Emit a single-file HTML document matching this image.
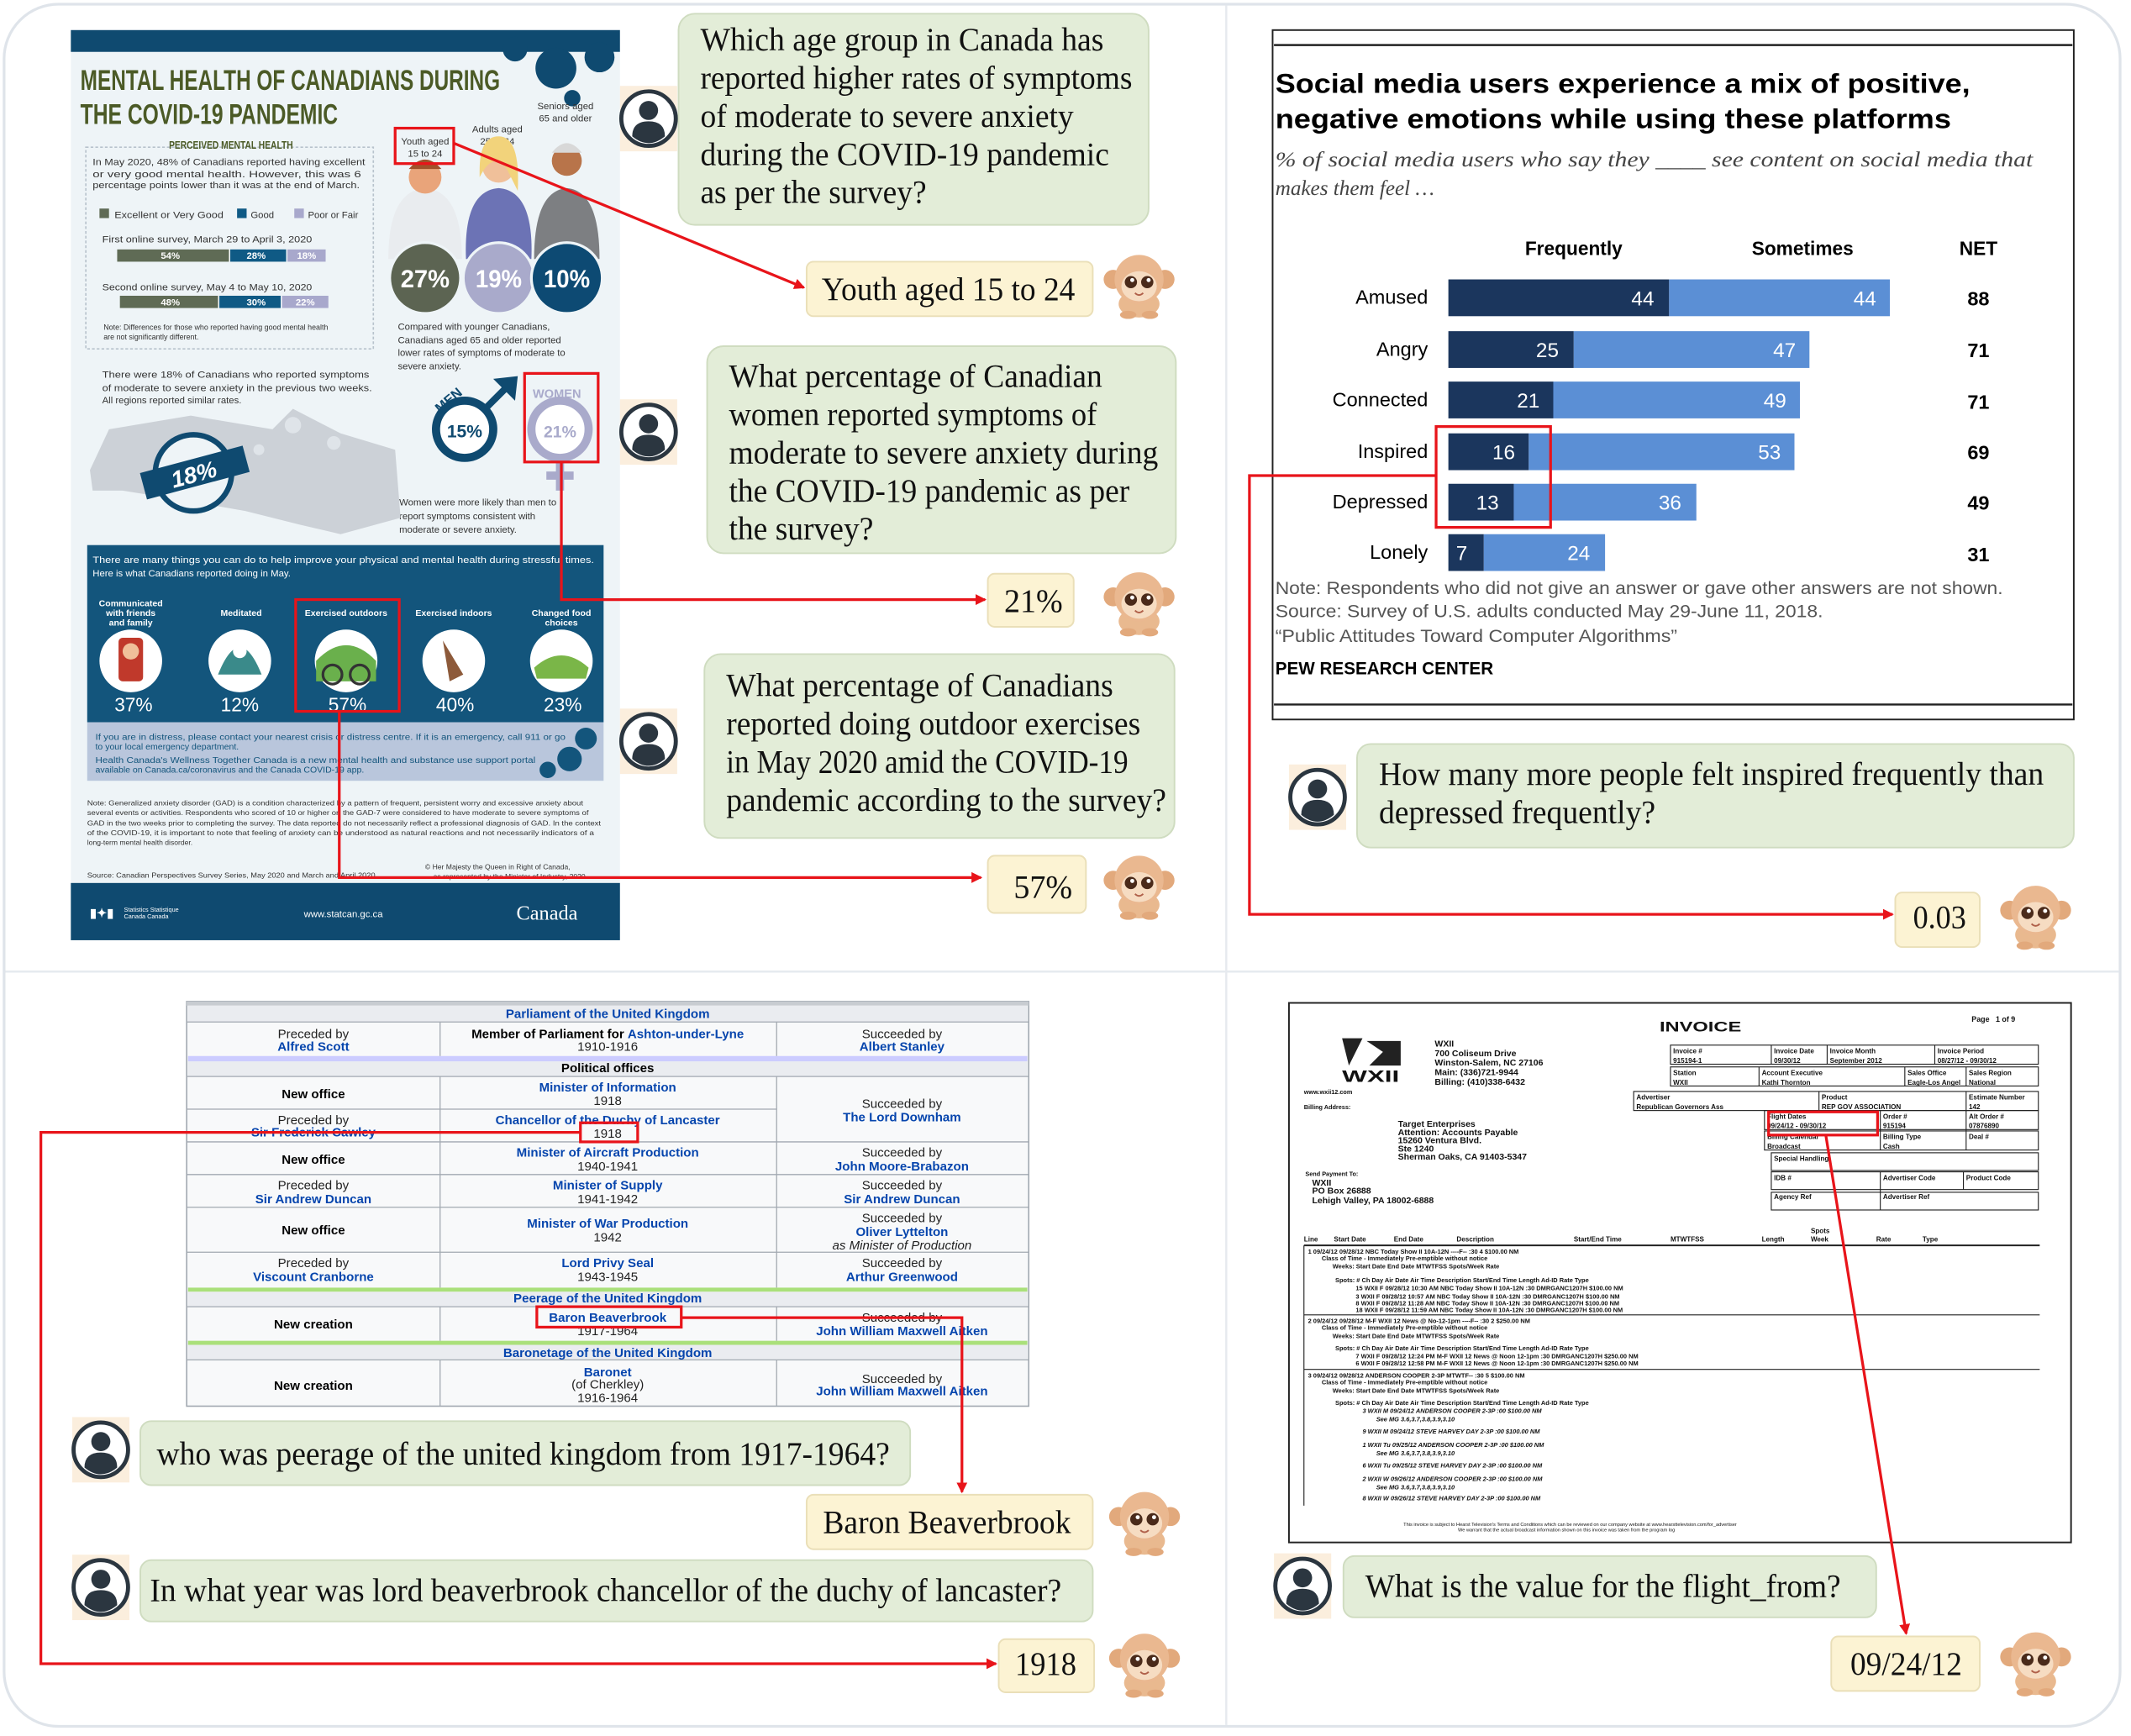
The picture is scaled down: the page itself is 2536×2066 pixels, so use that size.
<!DOCTYPE html>
<html><head><meta charset="utf-8"><style>
html,body{margin:0;padding:0;background:#fff}
svg{display:block}
.sf{font-family:"Liberation Serif",serif}
.ss{font-family:"Liberation Sans",sans-serif}
.pre{white-space:pre}
</style></head><body>
<svg width="2536" height="2066" viewBox="0 0 1564 1274" xmlns="http://www.w3.org/2000/svg">
<defs>
<g id="av">
<rect x="-21" y="-24" width="42" height="48" fill="#fbeedd"/>
<circle cx="0" cy="0" r="20" fill="#fff" stroke="#2b3640" stroke-width="3"/>
<circle cx="0" cy="-6" r="7" fill="#2b3640"/>
<path d="M-12,13 Q-12,2 0,2 Q12,2 12,13 Q6,18 0,18 Q-6,18 -12,13Z" fill="#2b3640"/>
</g>
<g id="mk">
<ellipse cx="0" cy="16" rx="15" ry="10" fill="#e9b98f"/>
<circle cx="-19" cy="-2" r="7" fill="#e2a97c"/><circle cx="19" cy="-2" r="7" fill="#e2a97c"/>
<circle cx="0" cy="-2" r="18" fill="#eab890"/>
<ellipse cx="0" cy="3" rx="13" ry="11" fill="#f6dcc2"/>
<circle cx="-6" cy="0" r="4.5" fill="#4a2a1a"/><circle cx="6" cy="0" r="4.5" fill="#4a2a1a"/>
<circle cx="-5" cy="-1.5" r="1.5" fill="#fff"/><circle cx="7" cy="-1.5" r="1.5" fill="#fff"/>
<path d="M-3,8 Q0,11 3,8" stroke="#b0604a" fill="none" stroke-width="1.2"/>
<ellipse cx="-8" cy="24" rx="6" ry="3" fill="#e2a97c"/><ellipse cx="8" cy="24" rx="6" ry="3" fill="#e2a97c"/>
</g>
<marker id="ar" markerWidth="8" markerHeight="8" refX="7" refY="4" orient="auto" markerUnits="userSpaceOnUse"><path d="M0,0 L8,4 L0,8Z" fill="#e8141a"/></marker>
</defs>

<rect x="3" y="3" width="1553" height="1264" rx="40" fill="#fff" stroke="#dfe4ea" stroke-width="2"/>
<line x1="900" y1="4" x2="900" y2="1266" stroke="#e6eaef" stroke-width="1.5"/>
<line x1="4" y1="713" x2="1555" y2="713" stroke="#e6eaef" stroke-width="1.5"/>

<!-- ============ INFOGRAPHIC ============ -->
<g class="ss">
<rect x="52" y="22" width="403" height="668" fill="#eef4f7"/>
<rect x="52" y="22" width="403" height="16" fill="#0f4a70"/>
<g fill="#0f4a70">
<circle cx="408" cy="50" r="15"/><circle cx="440" cy="42" r="11"/><circle cx="378" cy="36" r="9"/><circle cx="420" cy="72" r="6"/>
</g>
<text x="59" y="66" font-size="21" font-weight="bold" fill="#4b5a26" textLength="308" lengthAdjust="spacingAndGlyphs">MENTAL HEALTH OF CANADIANS DURING</text>
<text x="59" y="91" font-size="21" font-weight="bold" fill="#4b5a26" textLength="189" lengthAdjust="spacingAndGlyphs">THE COVID-19 PANDEMIC</text>
<rect x="63" y="108" width="211" height="148" fill="none" stroke="#b7c2cc" stroke-dasharray="2,1.5"/>
<text x="124" y="109" font-size="8" font-weight="bold" fill="#4b5a26" textLength="91" lengthAdjust="spacingAndGlyphs">PERCEIVED MENTAL HEALTH</text>
<g font-size="7" fill="#333">
<text x="68" y="121" textLength="200" lengthAdjust="spacingAndGlyphs">In May 2020, 48% of Canadians reported having excellent</text>
<text x="68" y="130" textLength="197" lengthAdjust="spacingAndGlyphs">or very good mental health. However, this was 6</text>
<text x="68" y="138" textLength="196" lengthAdjust="spacingAndGlyphs">percentage points lower than it was at the end of March.</text>
<rect x="73" y="153" width="7" height="7" fill="#5f6b55"/><text x="84" y="160" textLength="80" lengthAdjust="spacingAndGlyphs">Excellent or Very Good</text>
<rect x="174" y="153" width="7" height="7" fill="#0f5a85"/><text x="184" y="160">Good</text>
<rect x="216" y="153" width="7" height="7" fill="#a8a8cc"/><text x="226" y="160">Poor or Fair</text>
<text x="75" y="178" textLength="154" lengthAdjust="spacingAndGlyphs">First online survey, March 29 to April 3, 2020</text>
<text x="75" y="213" textLength="154" lengthAdjust="spacingAndGlyphs">Second online survey, May 4 to May 10, 2020</text>
</g>
<rect x="86" y="183" width="82" height="9" fill="#5f6b55"/><rect x="169" y="183" width="41" height="9" fill="#0f5a85"/><rect x="211" y="183" width="28" height="9" fill="#a8a8cc"/>
<rect x="88" y="217" width="72" height="9" fill="#5f6b55"/><rect x="161" y="217" width="45" height="9" fill="#0f5a85"/><rect x="207" y="217" width="34" height="9" fill="#a8a8cc"/>
<g font-size="7" font-weight="bold" fill="#fff"><text x="118" y="190">54%</text><text x="181" y="190">28%</text><text x="218" y="190">18%</text><text x="118" y="224">48%</text><text x="181" y="224">30%</text><text x="217" y="224">22%</text></g>
<text x="76" y="242" font-size="5.5" fill="#333">Note: Differences for those who reported having good mental health</text>
<text x="76" y="249" font-size="5.5" fill="#333">are not significantly different.</text>
<g font-size="7" fill="#333" text-anchor="middle">
<text x="415" y="80">Seniors aged</text><text x="415" y="89">65 and older</text>
<text x="365" y="97">Adults aged</text><text x="365" y="106">25 to 64</text>
<text x="312" y="106">Youth aged</text><text x="312" y="115">15 to 24</text>
</g>
<path d="M285,190 Q285,140 312,138 Q339,140 339,190Z" fill="#e9ecef"/>
<circle cx="312" cy="130" r="12" fill="#e9a47a"/><path d="M300,124 Q312,110 324,124Z" fill="#a0512a"/>
<path d="M342,190 Q340,140 366,138 Q392,140 390,190Z" fill="#6c73b5"/>
<circle cx="366" cy="122" r="12" fill="#f0c09a"/><path d="M352,125 Q352,100 366,100 Q382,100 380,140 L372,124 Q362,110 352,130Z" fill="#f2d37b"/>
<path d="M392,190 Q392,140 416,138 Q440,140 440,190Z" fill="#7d7f82"/>
<circle cx="416" cy="118" r="11" fill="#b8744a"/><path d="M405,112 Q416,98 427,112Z" fill="#d8d8d8"/>
<circle cx="312" cy="204" r="26" fill="#5c6452" stroke="#eef4f7" stroke-width="2"/>
<circle cx="366" cy="204" r="26" fill="#a9aacb" stroke="#eef4f7" stroke-width="2"/>
<circle cx="416" cy="204" r="26" fill="#0d4a73" stroke="#eef4f7" stroke-width="2"/>
<g font-size="18" font-weight="bold" fill="#fff" text-anchor="middle"><text x="312" y="211" textLength="36" lengthAdjust="spacingAndGlyphs">27%</text><text x="366" y="211" textLength="34" lengthAdjust="spacingAndGlyphs">19%</text><text x="416" y="211" textLength="34" lengthAdjust="spacingAndGlyphs">10%</text></g>
<g font-size="7" fill="#333">
<text x="292" y="242">Compared with younger Canadians,</text>
<text x="292" y="252">Canadians aged 65 and older reported</text>
<text x="292" y="261">lower rates of symptoms of moderate to</text>
<text x="292" y="271">severe anxiety.</text>
<text x="75" y="277" textLength="196" lengthAdjust="spacingAndGlyphs">There were 18% of Canadians who reported symptoms</text>
<text x="75" y="287" textLength="198" lengthAdjust="spacingAndGlyphs">of moderate to severe anxiety in the previous two weeks.</text>
<text x="75" y="296">All regions reported similar rates.</text>
<text x="293" y="371">Women were more likely than men to</text>
<text x="293" y="381">report symptoms consistent with</text>
<text x="293" y="391">moderate or severe anxiety.</text>
</g>
<path d="M66,345 L80,315 L140,305 L200,315 L215,300 L250,318 L290,330 L294,380 L250,392 L220,385 L180,375 L140,368 L90,360 L68,360Z" fill="#ccd1d7"/>
<g fill="#dfe4e9"><circle cx="215" cy="312" r="6"/><circle cx="245" cy="325" r="5"/><circle cx="190" cy="330" r="4"/></g>
<circle cx="142" cy="347" r="28" fill="#eef4f7" stroke="#0f4a70" stroke-width="4"/>
<rect x="104" y="337" width="78" height="20" fill="#0f4a70" transform="rotate(-15 142 347)"/>
<text x="142" y="354" font-size="17" font-weight="bold" font-style="italic" fill="#fff" text-anchor="middle" transform="rotate(-15 142 347)">18%</text>
<circle cx="341" cy="315" r="21" fill="#fff" stroke="#0f4a70" stroke-width="6"/>
<path d="M356,300 L372,284" stroke="#0f4a70" stroke-width="5"/><path d="M362,278 L380,276 L378,294Z" fill="#0f4a70"/>
<text x="341" y="321" font-size="13" font-weight="bold" fill="#0f4a70" text-anchor="middle">15%</text>
<text x="318" y="300" font-size="10" font-weight="bold" fill="#0f4a70" transform="rotate(-40 325 295)">MEN</text>
<circle cx="411" cy="315" r="21" fill="#fff" stroke="#a9aacb" stroke-width="6"/>
<rect x="408" y="338" width="6" height="22" fill="#a9aacb"/><rect x="401" y="346" width="20" height="6" fill="#a9aacb"/>
<text x="411" y="321" font-size="12" font-weight="bold" fill="#a9aacb" text-anchor="middle">21%</text>
<text x="391" y="292" font-size="9" font-weight="bold" fill="#a9aacb">WOMEN</text>
<rect x="64" y="400" width="379" height="130" fill="#13557c"/>
<rect x="64" y="530" width="379" height="43" fill="#b9c6dc"/>
<g font-size="7" fill="#fff">
<text x="68" y="413" textLength="368" lengthAdjust="spacingAndGlyphs">There are many things you can do to help improve your physical and mental health during stressful times.</text>
<text x="68" y="423">Here is what Canadians reported doing in May.</text>
</g>
<g font-size="6.5" font-weight="bold" fill="#fff" text-anchor="middle">
<text x="96" y="445">Communicated</text><text x="96" y="452">with friends</text><text x="96" y="459">and family</text>
<text x="177" y="452">Meditated</text><text x="254" y="452">Exercised outdoors</text><text x="333" y="452">Exercised indoors</text>
<text x="412" y="452">Changed food</text><text x="412" y="459">choices</text>
</g>
<g fill="#fff"><circle cx="96" cy="485" r="23"/><circle cx="176" cy="485" r="23"/><circle cx="254" cy="485" r="23"/><circle cx="333" cy="485" r="23"/><circle cx="412" cy="485" r="23"/></g>
<rect x="87" y="468" width="18" height="32" rx="3" fill="#c0392b"/><circle cx="96" cy="478" r="6" fill="#f0c09a"/>
<path d="M160,495 Q176,455 192,495Z" fill="#3a8a8a"/><circle cx="176" cy="478" r="5" fill="#fff"/>
<path d="M232,485 Q254,462 276,485 L276,500 L232,500Z" fill="#6ab04c"/><circle cx="244" cy="495" r="7" fill="none" stroke="#333" stroke-width="2"/><circle cx="264" cy="495" r="7" fill="none" stroke="#333" stroke-width="2"/>
<path d="M325,470 L340,495 L330,500Z" fill="#8d5a3a"/>
<path d="M392,490 Q412,472 432,490 L430,498 L394,498Z" fill="#7ab648"/>
<g font-size="14" fill="#fff" text-anchor="middle"><text x="98" y="522">37%</text><text x="176" y="522">12%</text><text x="255" y="522">57%</text><text x="334" y="522">40%</text><text x="413" y="522">23%</text></g>
<g font-size="6.5" fill="#13557c">
<text x="70" y="543" textLength="345" lengthAdjust="spacingAndGlyphs">If you are in distress, please contact your nearest crisis or distress centre. If it is an emergency, call 911 or go</text>
<text x="70" y="550">to your local emergency department.</text>
<text x="70" y="560" textLength="323" lengthAdjust="spacingAndGlyphs">Health Canada's Wellness Together Canada is a new mental health and substance use support portal</text>
<text x="70" y="567">available on Canada.ca/coronavirus and the Canada COVID-19 app.</text>
</g>
<circle cx="430" cy="542" r="8" fill="#13557c"/><circle cx="418" cy="557" r="9" fill="#13557c"/><circle cx="402" cy="565" r="6" fill="#13557c"/>
<g font-size="5.3" fill="#333">
<text x="64" y="591" textLength="364" lengthAdjust="spacingAndGlyphs">Note: Generalized anxiety disorder (GAD) is a condition characterized by a pattern of frequent, persistent worry and excessive anxiety about</text>
<text x="64" y="598" textLength="368" lengthAdjust="spacingAndGlyphs">several events or activities. Respondents who scored of 10 or higher on the GAD-7 were considered to have moderate to severe symptoms of</text>
<text x="64" y="606" textLength="377" lengthAdjust="spacingAndGlyphs">GAD in the two weeks prior to completing the survey. The data reported do not necessarily reflect a professional diagnosis of GAD. In the context</text>
<text x="64" y="613" textLength="372" lengthAdjust="spacingAndGlyphs">of the COVID-19, it is important to note that feeling of anxiety can be understood as natural reactions and not necessarily indicators of a</text>
<text x="64" y="620">long-term mental health disorder.</text>
<text x="64" y="644" textLength="213" lengthAdjust="spacingAndGlyphs">Source: Canadian Perspectives Survey Series, May 2020 and March and April 2020.</text>
<text x="312" y="638">© Her Majesty the Queen in Right of Canada,</text>
<text x="318" y="645">as represented by the Minister of Industry, 2020</text>
</g>
<rect x="52" y="648" width="403" height="42" fill="#0f4a70"/>
<text x="66" y="673" font-size="9" font-weight="bold" fill="#fff">▮✦▮</text>
<text x="91" y="669" font-size="4.5" fill="#fff">Statistics  Statistique</text><text x="91" y="674" font-size="4.5" fill="#fff">Canada      Canada</text>
<text x="223" y="673" font-size="7" fill="#fff">www.statcan.gc.ca</text>
<text x="379" y="675" font-size="15" fill="#fff" font-family="Liberation Serif,serif">Canada</text>
</g>

<!-- ============ PEW CHART ============ -->
<g class="ss">
<rect x="934" y="22" width="588" height="506" fill="#fff" stroke="#222" stroke-width="1.2"/>
<line x1="935" y1="33" x2="1521" y2="33" stroke="#222" stroke-width="1.5"/>
<line x1="935" y1="517" x2="1521" y2="517" stroke="#222" stroke-width="1.5"/>
<text x="936" y="68" font-size="20" font-weight="bold" fill="#000" textLength="510" lengthAdjust="spacingAndGlyphs">Social media users experience a mix of positive,</text>
<text x="936" y="94" font-size="20" font-weight="bold" fill="#000" textLength="496" lengthAdjust="spacingAndGlyphs">negative emotions while using these platforms</text>
<text x="936" y="122" font-size="15.5" font-style="italic" fill="#444" font-family="Liberation Serif,serif" textLength="556" lengthAdjust="spacingAndGlyphs">% of social media users who say they ____ see content on social media that</text>
<text x="936" y="143" font-size="15.5" font-style="italic" fill="#444" font-family="Liberation Serif,serif">makes them feel …</text>
<g font-size="14" font-weight="bold" fill="#000" text-anchor="middle"><text x="1155" y="187">Frequently</text><text x="1323" y="187">Sometimes</text><text x="1452" y="187">NET</text></g>
<g font-size="14.5" fill="#000" text-anchor="end">
<text x="1048" y="223">Amused</text><text x="1048" y="261">Angry</text><text x="1048" y="298">Connected</text><text x="1048" y="336">Inspired</text><text x="1048" y="373">Depressed</text><text x="1048" y="410">Lonely</text>
</g>
<g fill="#1b365d">
<rect x="1063" y="205" width="162" height="27"/><rect x="1063" y="243" width="92" height="27"/><rect x="1063" y="280" width="77" height="27"/><rect x="1063" y="318" width="59" height="27"/><rect x="1063" y="355" width="48" height="27"/><rect x="1063" y="392" width="26" height="27"/>
</g>
<g fill="#5b8fd5">
<rect x="1225" y="205" width="162" height="27"/><rect x="1155" y="243" width="173" height="27"/><rect x="1140" y="280" width="181" height="27"/><rect x="1122" y="318" width="195" height="27"/><rect x="1111" y="355" width="134" height="27"/><rect x="1089" y="392" width="89" height="27"/>
</g>
<g font-size="15" fill="#fff" text-anchor="end">
<text x="1214" y="224">44</text><text x="1377" y="224">44</text>
<text x="1144" y="262">25</text><text x="1318" y="262">47</text>
<text x="1130" y="299">21</text><text x="1311" y="299">49</text>
<text x="1112" y="337">16</text><text x="1307" y="337">53</text>
<text x="1100" y="374">13</text><text x="1234" y="374">36</text>
<text x="1077" y="411">7</text><text x="1167" y="411">24</text>
</g>
<g font-size="14.5" font-weight="bold" fill="#000" text-anchor="middle">
<text x="1452" y="224">88</text><text x="1452" y="262">71</text><text x="1452" y="300">71</text><text x="1452" y="337">69</text><text x="1452" y="374">49</text><text x="1452" y="412">31</text>
</g>
<g font-size="13" fill="#555">
<text x="936" y="436" textLength="534" lengthAdjust="spacingAndGlyphs">Note: Respondents who did not give an answer or gave other answers are not shown.</text>
<text x="936" y="453" textLength="402" lengthAdjust="spacingAndGlyphs">Source: Survey of U.S. adults conducted May 29-June 11, 2018.</text>
<text x="936" y="471" textLength="295" lengthAdjust="spacingAndGlyphs">“Public Attitudes Toward Computer Algorithms”</text>
</g>
<text x="936" y="495" font-size="13" font-weight="bold" fill="#000" textLength="160" lengthAdjust="spacingAndGlyphs">PEW RESEARCH CENTER</text>
</g>

<!-- ============ WIKI TABLE ============ -->
<g class="ss" font-size="9.3" text-anchor="middle">
<rect x="137" y="735" width="618" height="297" fill="#f8f9fa" stroke="#a2a9b1" stroke-width="1"/>
<rect x="137" y="735" width="618" height="3" fill="#c8ccd1"/>
<rect x="138" y="738" width="616" height="12" fill="#eaecf0"/>
<rect x="138" y="775" width="616" height="4" fill="#ccccff"/>
<rect x="138" y="779" width="616" height="11" fill="#eaecf0"/>
<rect x="138" y="945" width="616" height="3" fill="#aae07a"/>
<rect x="138" y="948" width="616" height="11" fill="#eaecf0"/>
<rect x="138" y="984" width="616" height="3" fill="#aae07a"/>
<rect x="138" y="987" width="616" height="11" fill="#eaecf0"/>
<g stroke="#a2a9b1" stroke-width="0.8">
<line x1="137" y1="750" x2="755" y2="750"/><line x1="137" y1="790" x2="755" y2="790"/>
<line x1="137" y1="814" x2="570" y2="814"/><line x1="137" y1="838" x2="755" y2="838"/><line x1="137" y1="862" x2="755" y2="862"/>
<line x1="137" y1="886" x2="755" y2="886"/><line x1="137" y1="919" x2="755" y2="919"/><line x1="137" y1="959" x2="755" y2="959"/><line x1="137" y1="998" x2="755" y2="998"/>
<line x1="323" y1="750" x2="323" y2="775"/><line x1="570" y1="750" x2="570" y2="775"/>
<line x1="323" y1="790" x2="323" y2="945"/><line x1="570" y1="790" x2="570" y2="945"/>
<line x1="323" y1="959" x2="323" y2="984"/><line x1="570" y1="959" x2="570" y2="984"/>
<line x1="323" y1="998" x2="323" y2="1032"/><line x1="570" y1="998" x2="570" y2="1032"/>
</g>
<g fill="#0645ad" font-weight="bold">
<text x="446" y="747">Parliament of the United Kingdom</text>
<text x="230" y="771">Alfred Scott</text><text x="662" y="771">Albert Stanley</text>
<text x="446" y="801">Minister of Information</text>
<text x="446" y="825">Chancellor of the Duchy of Lancaster</text>
<text x="230" y="834">Sir Frederick Cawley</text>
<text x="662" y="823">The Lord Downham</text>
<text x="446" y="849">Minister of Aircraft Production</text><text x="662" y="859">John Moore-Brabazon</text>
<text x="446" y="873">Minister of Supply</text><text x="230" y="883">Sir Andrew Duncan</text><text x="662" y="883">Sir Andrew Duncan</text>
<text x="446" y="901">Minister of War Production</text><text x="662" y="907">Oliver Lyttelton</text>
<text x="446" y="930">Lord Privy Seal</text><text x="230" y="940">Viscount Cranborne</text><text x="662" y="940">Arthur Greenwood</text>
<text x="446" y="956">Peerage of the United Kingdom</text>
<text x="446" y="970">Baron Beaverbrook</text><text x="662" y="980">John William Maxwell Aitken</text>
<text x="446" y="996">Baronetage of the United Kingdom</text>
<text x="446" y="1010">Baronet</text><text x="662" y="1024">John William Maxwell Aitken</text>
</g>
<g fill="#222">
<text x="230" y="762">Preceded by</text><text x="662" y="762">Succeeded by</text>
<text x="446" y="771">1910-1916</text>
<text x="446" y="811">1918</text><text x="446" y="835">1918</text>
<text x="230" y="825">Preceded by</text><text x="662" y="813">Succeeded by</text>
<text x="446" y="859">1940-1941</text><text x="662" y="849">Succeeded by</text>
<text x="230" y="873">Preceded by</text><text x="446" y="883">1941-1942</text><text x="662" y="873">Succeeded by</text>
<text x="446" y="911">1942</text><text x="662" y="897">Succeeded by</text>
<text x="662" y="917" font-style="italic">as Minister of Production</text>
<text x="230" y="930">Preceded by</text><text x="446" y="940">1943-1945</text><text x="662" y="930">Succeeded by</text>
<text x="446" y="980">1917-1964</text><text x="662" y="970">Succeeded by</text>
<text x="446" y="1019">(of Cherkley)</text><text x="446" y="1029">1916-1964</text><text x="662" y="1015">Succeeded by</text>
</g>
<g fill="#000" font-weight="bold">
<text x="446" y="762">Member of Parliament for <tspan fill="#0645ad">Ashton-under-Lyne</tspan></text>
<text x="446" y="787">Political offices</text>
<text x="230" y="806">New office</text><text x="230" y="854">New office</text><text x="230" y="906">New office</text>
<text x="230" y="975">New creation</text><text x="230" y="1020">New creation</text>
</g>
</g>

<!-- ============ INVOICE ============ -->
<g class="ss" font-weight="bold" fill="#111">
<rect x="946" y="736" width="574" height="396" fill="#fff" stroke="#222" stroke-width="1.2"/>
<text x="1218" y="757" font-size="10" textLength="60" lengthAdjust="spacingAndGlyphs">INVOICE</text>
<text x="1447" y="750" font-size="5.5" class="pre">Page   1 of 9</text>
<path d="M985,762 L1000,762 L990,782 Z M1003,764 L1028,764 L1028,782 L1005,782 L1015,772Z" fill="#222"/>
<text x="985" y="794" font-size="12" textLength="42" lengthAdjust="spacingAndGlyphs">WXII</text>
<g font-size="6.5" class="pre">
<text x="1053" y="768">WXII</text><text x="1053" y="775">700 Coliseum Drive</text><text x="1053" y="782">Winston-Salem, NC  27106</text><text x="1053" y="789">Main:  (336)721-9944</text><text x="1053" y="796">Billing: (410)338-6432</text>
<text x="1026" y="827">Target Enterprises</text><text x="1026" y="833">Attention: Accounts Payable</text><text x="1026" y="839">15260 Ventura Blvd.</text><text x="1026" y="845">Ste 1240</text><text x="1026" y="851">Sherman Oaks, CA  91403-5347</text>
<text x="963" y="870">WXII</text><text x="963" y="876">PO Box 26888</text><text x="963" y="883">Lehigh Valley, PA  18002-6888</text>
</g>
<g font-size="4.5"><text x="957" y="803">www.wxii12.com</text><text x="957" y="814">Billing Address:</text><text x="958" y="863">Send Payment To:</text></g>
<g fill="none" stroke="#222" stroke-width="0.7">
<rect x="1226" y="767" width="270" height="14"/><rect x="1226" y="783" width="270" height="14"/><rect x="1199" y="801" width="297" height="14"/>
<rect x="1295" y="815" width="201" height="14"/><rect x="1295" y="830" width="201" height="14"/><rect x="1300" y="846" width="196" height="13"/><rect x="1300" y="860" width="196" height="13"/><rect x="1300" y="875" width="196" height="13"/>
<line x1="1300" y1="767" x2="1300" y2="781"/><line x1="1341" y1="767" x2="1341" y2="781"/><line x1="1420" y1="767" x2="1420" y2="781"/>
<line x1="1291" y1="783" x2="1291" y2="797"/><line x1="1398" y1="783" x2="1398" y2="797"/><line x1="1443" y1="783" x2="1443" y2="797"/>
<line x1="1335" y1="801" x2="1335" y2="815"/><line x1="1443" y1="801" x2="1443" y2="815"/>
<line x1="1380" y1="815" x2="1380" y2="844"/><line x1="1443" y1="815" x2="1443" y2="844"/>
<line x1="1380" y1="860" x2="1380" y2="888"/><line x1="1441" y1="860" x2="1441" y2="873"/>
<line x1="957" y1="914" x2="1497" y2="914" stroke-width="1.2"/><line x1="957" y1="965" x2="1497" y2="965"/><line x1="957" y1="1005" x2="1497" y2="1005"/>
<line x1="957" y1="914" x2="957" y2="1105"/>
</g>
<g font-size="5">
<text x="1228" y="773">Invoice #</text><text x="1302" y="773">Invoice Date</text><text x="1343" y="773">Invoice Month</text><text x="1422" y="773">Invoice Period</text>
<text x="1228" y="780">915194-1</text><text x="1302" y="780">09/30/12</text><text x="1343" y="780">September 2012</text><text x="1422" y="780">08/27/12 - 09/30/12</text>
<text x="1228" y="789">Station</text><text x="1293" y="789">Account Executive</text><text x="1400" y="789">Sales Office</text><text x="1445" y="789">Sales Region</text>
<text x="1228" y="796">WXII</text><text x="1293" y="796">Kathi Thornton</text><text x="1400" y="796">Eagle-Los Angel</text><text x="1445" y="796">National</text>
<text x="1201" y="807">Advertiser</text><text x="1337" y="807">Product</text><text x="1445" y="807">Estimate Number</text>
<text x="1201" y="814">Republican Governors Ass</text><text x="1337" y="814">REP GOV ASSOCIATION</text><text x="1445" y="814">142</text>
<text x="1297" y="821">Flight Dates</text><text x="1382" y="821">Order #</text><text x="1445" y="821">Alt Order #</text>
<text x="1297" y="828">09/24/12 - 09/30/12</text><text x="1382" y="828">915194</text><text x="1445" y="828">07876890</text>
<text x="1297" y="836">Billing Calendar</text><text x="1382" y="836">Billing Type</text><text x="1445" y="836">Deal #</text>
<text x="1297" y="843">Broadcast</text><text x="1382" y="843">Cash</text>
<text x="1302" y="852">Special Handling</text><text x="1302" y="866">IDB #</text><text x="1382" y="866">Advertiser Code</text><text x="1443" y="866">Product Code</text>
<text x="1302" y="880">Agency Ref</text><text x="1382" y="880">Advertiser Ref</text>
<text x="957" y="911">Line</text><text x="979" y="911">Start Date</text><text x="1023" y="911">End Date</text><text x="1069" y="911">Description</text><text x="1155" y="911">Start/End Time</text><text x="1226" y="911">MTWTFSS</text><text x="1293" y="911">Length</text><text x="1329" y="905">Spots</text><text x="1329" y="911">Week</text><text x="1377" y="911">Rate</text><text x="1411" y="911">Type</text>
</g>
<g font-size="4.6" class="pre">
<text x="960" y="920">1 09/24/12    09/28/12    NBC Today Show II         10A-12N           ----F--        :30     4     $100.00    NM</text>
<text x="970" y="925">Class of Time - Immediately Pre-emptible without notice</text>
<text x="978" y="931">Weeks:   Start Date   End Date   MTWTFSS        Spots/Week          Rate</text>
<text x="980" y="941">Spots: # Ch   Day  Air Date   Air Time  Description          Start/End Time     Length Ad-ID                                     Rate  Type</text>
<text x="995" y="947">15 WXII   F   09/28/12   10:30 AM NBC Today Show II      10A-12N       :30 DMRGANC1207H                         $100.00  NM</text>
<text x="995" y="953">3 WXII    F   09/28/12   10:57 AM NBC Today Show II      10A-12N       :30 DMRGANC1207H                         $100.00  NM</text>
<text x="995" y="958">8 WXII    F   09/28/12   11:28 AM NBC Today Show II      10A-12N       :30 DMRGANC1207H                         $100.00  NM</text>
<text x="995" y="963">18 WXII   F   09/28/12   11:59 AM NBC Today Show II      10A-12N       :30 DMRGANC1207H                         $100.00  NM</text>
<text x="960" y="971">2 09/24/12    09/28/12    M-F WXII 12 News @ No-12-1pm     ----F--        :30     2     $250.00    NM</text>
<text x="970" y="976">Class of Time - Immediately Pre-emptible without notice</text>
<text x="978" y="982">Weeks:   Start Date   End Date   MTWTFSS        Spots/Week          Rate</text>
<text x="980" y="991">Spots: # Ch   Day  Air Date   Air Time  Description          Start/End Time     Length Ad-ID                                     Rate  Type</text>
<text x="995" y="997">7 WXII    F   09/28/12   12:24 PM M-F WXII 12 News @ Noon    12-1pm     :30 DMRGANC1207H                         $250.00  NM</text>
<text x="995" y="1002">6 WXII    F   09/28/12   12:58 PM M-F WXII 12 News @ Noon    12-1pm     :30 DMRGANC1207H                         $250.00  NM</text>
<text x="960" y="1011">3 09/24/12    09/28/12    ANDERSON COOPER    2-3P        MTWTF--        :30     5     $100.00    NM</text>
<text x="970" y="1016">Class of Time - Immediately Pre-emptible without notice</text>
<text x="978" y="1022">Weeks:   Start Date   End Date   MTWTFSS        Spots/Week          Rate</text>
<text x="980" y="1031">Spots: # Ch   Day  Air Date   Air Time  Description          Start/End Time     Length Ad-ID                                     Rate  Type</text>
</g>
<g font-size="4.6" font-style="italic" class="pre">
<text x="1000" y="1037">3 WXII   M   09/24/12            ANDERSON COOPER          2-3P           :00                                       $100.00   NM</text>
<text x="1010" y="1043">See MG 3.6,3.7,3.8,3.9,3.10</text>
<text x="1000" y="1052">9 WXII   M   09/24/12            STEVE HARVEY DAY         2-3P           :00                                       $100.00   NM</text>
<text x="1000" y="1062">1 WXII   Tu  09/25/12            ANDERSON COOPER          2-3P           :00                                       $100.00   NM</text>
<text x="1010" y="1068">See MG 3.6,3.7,3.8,3.9,3.10</text>
<text x="1000" y="1077">6 WXII   Tu  09/25/12            STEVE HARVEY DAY         2-3P           :00                                       $100.00   NM</text>
<text x="1000" y="1087">2 WXII   W   09/26/12            ANDERSON COOPER          2-3P           :00                                       $100.00   NM</text>
<text x="1010" y="1093">See MG 3.6,3.7,3.8,3.9,3.10</text>
<text x="1000" y="1101">8 WXII   W   09/26/12            STEVE HARVEY DAY         2-3P           :00                                       $100.00   NM</text>
</g>
<text x="1030" y="1120" font-size="3.5" font-weight="normal">This invoice is subject to Hearst Television's Terms and Conditions which can be reviewed on our company website at www.hearsttelevision.com/for_advertiser</text>
<text x="1070" y="1124" font-size="3.5" font-weight="normal">We warrant that the actual broadcast information shown on this invoice was taken from the program log</text>
</g>

<!-- ============ BUBBLES ============ -->
<g stroke="#cfdcc0" stroke-width="1.2" fill="#e3edd8">
<rect x="498" y="10" width="345" height="155" rx="12"/>
<rect x="519" y="254" width="344" height="152" rx="12"/>
<rect x="517" y="480" width="345" height="135" rx="12"/>
<rect x="996" y="546" width="526" height="76" rx="10"/>
<rect x="103" y="1043" width="565" height="47" rx="8"/>
<rect x="103" y="1145" width="699" height="45" rx="8"/>
<rect x="986" y="1142" width="391" height="45" rx="8"/>
</g>
<g stroke="#eadfb8" stroke-width="1.2" fill="#fcf3d3">
<rect x="592" y="192" width="210" height="40" rx="5"/>
<rect x="725" y="421" width="63" height="39" rx="5"/>
<rect x="725" y="628" width="72" height="42" rx="5"/>
<rect x="1391" y="655" width="62" height="40" rx="5"/>
<rect x="592" y="1097" width="210" height="40" rx="5"/>
<rect x="733" y="1203" width="70" height="39" rx="5"/>
<rect x="1344" y="1201" width="109" height="40" rx="5"/>
</g>
<g class="sf" font-size="24" fill="#111">
<text x="514" y="37" textLength="296" lengthAdjust="spacingAndGlyphs">Which age group in Canada has</text>
<text x="514" y="65" textLength="317" lengthAdjust="spacingAndGlyphs">reported higher rates of symptoms</text>
<text x="514" y="93" textLength="274" lengthAdjust="spacingAndGlyphs">of moderate to severe anxiety</text>
<text x="514" y="121" textLength="300" lengthAdjust="spacingAndGlyphs">during the COVID-19 pandemic</text>
<text x="514" y="149" textLength="166" lengthAdjust="spacingAndGlyphs">as per the survey?</text>
<text x="535" y="284" textLength="274" lengthAdjust="spacingAndGlyphs">What percentage of Canadian</text>
<text x="535" y="312" textLength="270" lengthAdjust="spacingAndGlyphs">women reported symptoms of</text>
<text x="535" y="340" textLength="315" lengthAdjust="spacingAndGlyphs">moderate to severe anxiety during</text>
<text x="535" y="368" textLength="294" lengthAdjust="spacingAndGlyphs">the COVID-19 pandemic as per</text>
<text x="535" y="396" textLength="106" lengthAdjust="spacingAndGlyphs">the survey?</text>
<text x="533" y="511" textLength="284" lengthAdjust="spacingAndGlyphs">What percentage of Canadians</text>
<text x="533" y="539" textLength="304" lengthAdjust="spacingAndGlyphs">reported doing outdoor exercises</text>
<text x="533" y="567" textLength="295" lengthAdjust="spacingAndGlyphs">in May 2020 amid the COVID-19</text>
<text x="533" y="595" textLength="323" lengthAdjust="spacingAndGlyphs">pandemic according to the survey?</text>
<text x="1012" y="576" textLength="488" lengthAdjust="spacingAndGlyphs">How many more people felt inspired frequently than</text>
<text x="1012" y="604" textLength="203" lengthAdjust="spacingAndGlyphs">depressed frequently?</text>
<text x="115" y="1075" textLength="538" lengthAdjust="spacingAndGlyphs">who was peerage of the united kingdom from 1917-1964?</text>
<text x="110" y="1175" textLength="669" lengthAdjust="spacingAndGlyphs">In what year was lord beaverbrook chancellor of the duchy of lancaster?</text>
<text x="1002" y="1172" textLength="349" lengthAdjust="spacingAndGlyphs">What is the value for the flight_from?</text>
<text x="603" y="220" textLength="186" lengthAdjust="spacingAndGlyphs">Youth aged 15 to 24</text>
<text x="737" y="449" textLength="43" lengthAdjust="spacingAndGlyphs">21%</text>
<text x="744" y="659" textLength="43" lengthAdjust="spacingAndGlyphs">57%</text>
<text x="1404" y="681" textLength="39" lengthAdjust="spacingAndGlyphs">0.03</text>
<text x="604" y="1125" textLength="182" lengthAdjust="spacingAndGlyphs">Baron Beaverbrook</text>
<text x="745" y="1229" textLength="45" lengthAdjust="spacingAndGlyphs">1918</text>
<text x="1358" y="1229" textLength="82" lengthAdjust="spacingAndGlyphs">09/24/12</text>
</g>
<use href="#av" x="476" y="87"/><use href="#av" x="476" y="317"/><use href="#av" x="476" y="544"/><use href="#av" x="967" y="585"/>
<use href="#av" x="74" y="1064"/><use href="#av" x="74" y="1165"/><use href="#av" x="956" y="1164"/>
<use href="#mk" x="836" y="207"/><use href="#mk" x="836" y="440"/><use href="#mk" x="836" y="648"/><use href="#mk" x="1494" y="670"/>
<use href="#mk" x="840" y="1115"/><use href="#mk" x="840" y="1219"/><use href="#mk" x="1494" y="1218"/>

<g fill="none" stroke="#e8141a" stroke-width="2">
<rect x="290" y="94" width="43" height="26"/>
<rect x="385" y="274" width="54" height="65"/>
<rect x="217" y="440" width="76" height="82"/>
<rect x="1054" y="313" width="84" height="74"/>
<rect x="426" y="824" width="42" height="14"/>
<rect x="394" y="959" width="106" height="15"/>
<rect x="1298" y="816" width="80" height="17"/>
<polyline points="333,105 590,211" marker-end="url(#ar)"/>
<polyline points="412,339 412,440 723,440" marker-end="url(#ar)"/>
<polyline points="249,522 249,644 720,644" marker-end="url(#ar)"/>
<polyline points="1054,349 917,349 917,671 1389,671" marker-end="url(#ar)"/>
<polyline points="426,831 30,831 30,1221 731,1221" marker-end="url(#ar)"/>
<polyline points="500,967 706,967 706,1095" marker-end="url(#ar)"/>
<polyline points="1340,833 1399,1199" marker-end="url(#ar)"/>
</g>
</svg>
</body></html>
